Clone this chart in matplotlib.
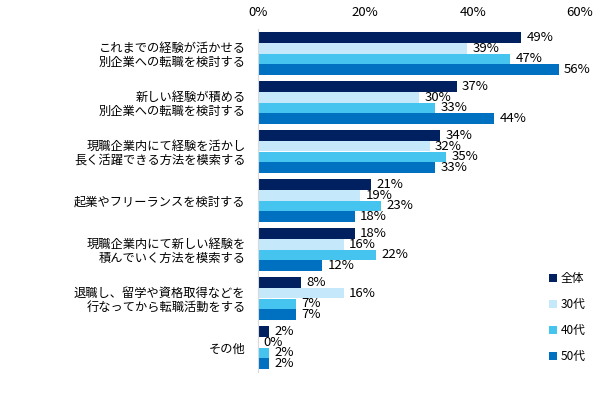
import matplotlib
matplotlib.use('Agg')
import matplotlib.pyplot as plt
import numpy as np

plt.rcParams['font.family'] = ['Noto Sans CJK JP', 'DejaVu Sans']

# 項目
categories = [
    'これまでの経験が活かせる\n別企業への転職を検討する',
    '新しい経験が積める\n別企業への転職を検討する',
    '現職企業内にて経験を活かし\n長く活躍できる方法を模索する',
    '起業やフリーランスを検討する',
    '現職企業内にて新しい経験を\n積んでいく方法を模索する',
    '退職し、留学や資格取得などを\n行なってから転職活動をする',
    'その他',
]
series_names = ['全体', '30代', '40代', '50代']
v_all = [49, 37, 34, 21, 18, 8, 2]
v_30 = [39, 30, 32, 19, 16, 16, 0]
v_40 = [47, 33, 35, 23, 22, 7, 2]
v_50 = [56, 44, 33, 18, 12, 7, 2]
colors = ['#002060', '#C5E9FA', '#45C4F0', '#0070C0']

fig = plt.figure(figsize=(6.05, 3.94), dpi=100)
ax = fig.add_axes([258/605, 1 - 372/394, 322/605, 343/394])

n = len(categories)
y = np.arange(n)
h = 0.22
for k, vals in enumerate([v_all, v_30, v_40, v_50]):
    pos = y + (k - 1.5) * h
    ax.barh(pos, vals, height=h, color=colors[k], label=series_names[k])
    for p, v in zip(pos, vals):
        ax.text(v + 1.0, p, f'{v}%', va='center', ha='left', fontsize=9.5)

ax.set_xlim(0, 60)
ax.set_ylim(n - 0.5, -0.5)
ax.set_xticks([0, 20, 40, 60])
ax.set_xticklabels(['0%', '20%', '40%', '60%'], fontsize=9.5)
ax.xaxis.tick_top()
ax.tick_params(axis='x', length=0, pad=7)
ax.set_yticks(y)
ax.set_yticklabels(categories, fontsize=8.8, linespacing=1.1)
ax.tick_params(axis='y', length=0, pad=9)
for s in ['top', 'right', 'bottom']:
    ax.spines[s].set_visible(False)
ax.spines['left'].set_color('#D9D9D9')

fig.legend(loc='upper left', bbox_to_anchor=(540/605, 1 - 263/394), frameon=False,
           fontsize=8.5, handlelength=0.65, handleheight=0.65, labelspacing=1.1,
           handletextpad=0.3, borderpad=0.3)

fig.savefig('out.png', dpi=100)
